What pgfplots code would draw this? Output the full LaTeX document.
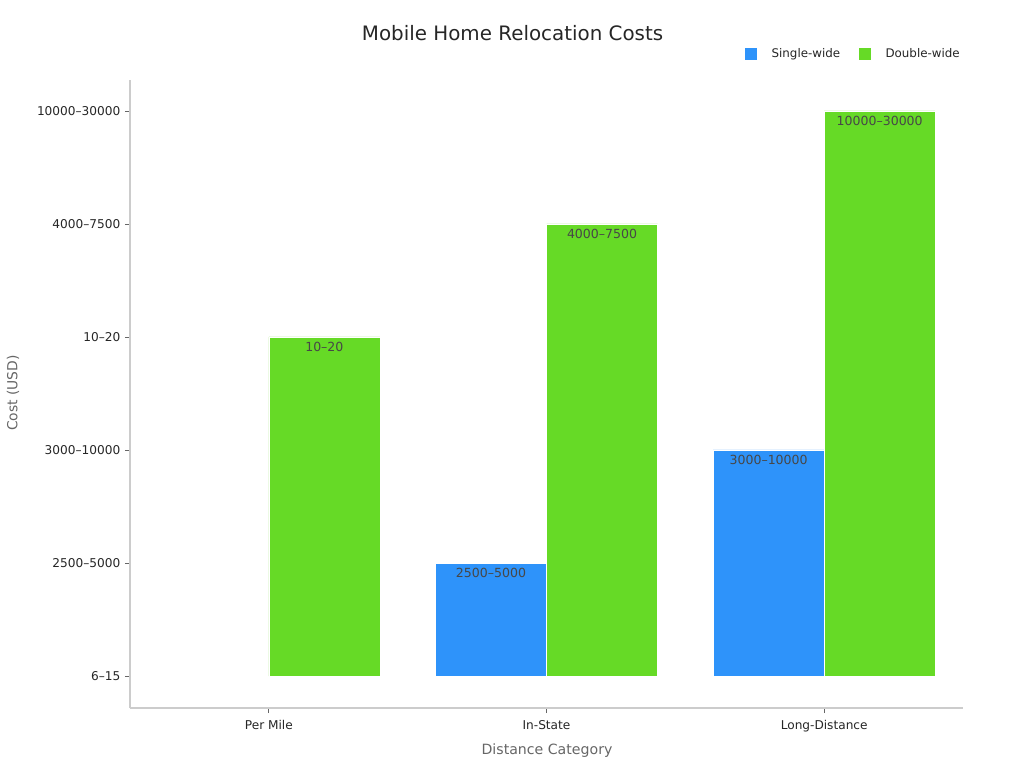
\documentclass[border=0pt]{standalone}
\usepackage{pgfplots}
\pgfplotsset{compat=1.18}
\usepackage{fontspec}
\setmainfont{DejaVu Sans}
\definecolor{single}{HTML}{2E93FA}
\definecolor{double}{HTML}{66DA26}
\definecolor{spine}{HTML}{CCCCCC}
\definecolor{ticktxt}{HTML}{262626}
\definecolor{labtxt}{HTML}{666666}
\begin{document}
\begin{tikzpicture}
\begin{axis}[
  at={(0,0)}, anchor=south west,
  width=624.75pt, height=471pt, scale only axis,
  xmin=-0.5, xmax=2.5,
  ymin=-0.283, ymax=5.274,
  ybar, bar width=0.4,
  axis x line*=bottom, axis y line*=left,
  axis line style={spine, line width=0.8pt},
  xtick={0,1,2},
  xticklabels={Per Mile,In-State,Long-Distance},
  ytick={0,1,2,3,4,5},
  yticklabels={6–15,2500–5000,3000–10000,10–20,4000–7500,10000–30000},
  tick align=outside, major tick length=3.75pt,
  tick style={labtxt, line width=0.6pt},
  ticklabel style={font=\fontsize{9.1}{11}\selectfont, text=ticktxt},
  xticklabel style={yshift=-2pt},
  point meta=explicit symbolic,
  nodes near coords,
  every node near coord/.append style={anchor=north, yshift=-0.5pt,
    font=\fontsize{9.4}{11}\selectfont, text=ticktxt!85},
  legend style={at={(627.5pt,490.5pt)}, anchor=east, draw=none,
    legend columns=2, font=\fontsize{8.9}{10}\selectfont, text=ticktxt,
    /tikz/every odd column/.append style={column sep=9pt},
    /tikz/every even column/.append style={column sep=12pt}},
  legend image code/.code={\fill[#1, draw=none] (0pt,-4.5pt) rectangle (9pt,4.5pt);},
]
\addplot[fill=single, draw=white, line width=0.5pt, bar shift=-0.2]
  coordinates {(1,1) [2500–5000] (2,2) [3000–10000]};
\addplot[fill=double, draw=white, line width=0.5pt, bar shift=0.2]
  coordinates {(0,3) [10–20] (1,4) [4000–7500] (2,5) [10000–30000]};
\legend{Single-wide,Double-wide}
\end{axis}
\node[font=\fontsize{14.9}{18}\selectfont, text=ticktxt] at (286.9pt,506.25pt) {Mobile Home Relocation Costs};
\node[font=\fontsize{10.6}{13}\selectfont, text=labtxt] at (312.75pt,-32.25pt) {Distance Category};
\node[font=\fontsize{10.4}{13}\selectfont, text=labtxt, rotate=90] at (-87.75pt,236.25pt) {Cost (USD)};
\path[use as bounding box] (-97.5pt,-45pt) rectangle (670.5pt,531pt);
\end{tikzpicture}
\end{document}
